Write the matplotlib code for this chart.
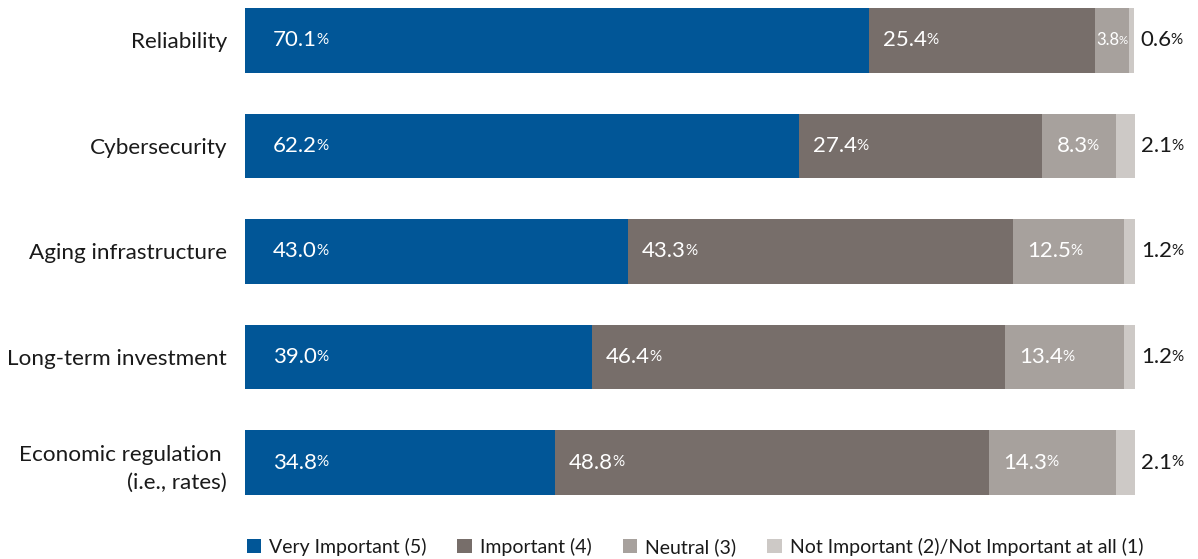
import matplotlib.pyplot as plt
import numpy as np

plt.rcParams['font.family'] = ['Lato', 'DejaVu Sans']

categories = ['Reliability', 'Cybersecurity', 'Aging infrastructure',
              'Long-term investment', 'Economic regulation\u00a0\n(i.e., rates)']
very_important = [70.1, 62.2, 43.0, 39.0, 34.8]
important = [25.4, 27.4, 43.3, 46.4, 48.8]
neutral = [3.8, 8.3, 12.5, 13.4, 14.3]
not_important = [0.6, 2.1, 1.2, 1.2, 2.1]

series_names = ['Very Important (5)', 'Important (4)', 'Neutral (3)',
                'Not Important (2)/Not Important at all (1)']
colors = ['#015697', '#776e6a', '#a7a19d', '#cdc9c6']

fig = plt.figure(figsize=(11.98, 5.59), dpi=100)
ax = fig.add_axes([245 / 1198, 1 - 495 / 559, 890 / 1198, 487 / 559])

h = 0.615
y = np.arange(len(categories))
series = [very_important, important, neutral, not_important]
left = np.zeros(len(categories))
labels = []
for k, (vals, col, name) in enumerate(zip(series, colors, series_names)):
    vals = np.array(vals)
    ax.barh(y, vals, left=left, height=h, color=col, label=name, linewidth=0)
    for i, v in enumerate(vals):
        if k == 3:
            # tiny last segment: value sits outside the bar
            x0, pad, tc = left[i] + v, 6, '#1a1a1a'
        else:
            x0, pad, tc = left[i], (28 if k == 0 else 14), 'white'
        t = ax.annotate(f'{v:.1f}', xy=(x0, i), xytext=(pad * 0.72, 0),
                        textcoords='offset points', ha='left', va='center',
                        fontsize=16, color=tc)
        p = ax.annotate('%', xy=(1.0, 0.86), xycoords=t, xytext=(-0.5, 0),
                        textcoords='offset points', ha='left', va='top',
                        fontsize=11, color=tc)
        if k < 3:
            labels.append((t, p, v))
    left += vals

ax.set_xlim(0, left.max())
ax.set_ylim(len(categories) - 1 + h / 2, -h / 2)
ax.set_yticks(y)
ax.set_yticklabels(categories, fontsize=16.2, color='#1a1a1a',
                   multialignment='right', linespacing=1.55)
ax.tick_params(axis='y', length=0, pad=13)
ax.set_xticks([])
for s in ax.spines.values():
    s.set_visible(False)

# shrink inside labels that would spill out of a narrow segment
fig.canvas.draw()
r = fig.canvas.get_renderer()
px_per_unit = ax.bbox.width / left.max()
for t, p, v in labels:
    seg_w = v * px_per_unit
    w = p.get_window_extent(r).x1 - t.get_window_extent(r).x0
    if w + 2 > seg_w:
        f = (seg_w - 2) / w
        t.set_fontsize(16 * f)
        p.set_fontsize(11 * f)
        t.xyann = (1.0, 0)

fig.legend(loc='center', bbox_to_anchor=(0.58, 0.022), ncol=4, frameon=False,
           fontsize=14, handlelength=0.75, handleheight=0.75,
           handletextpad=0.4, columnspacing=1.6, labelcolor='#1a1a1a')

fig.savefig('out.png', dpi=100)
